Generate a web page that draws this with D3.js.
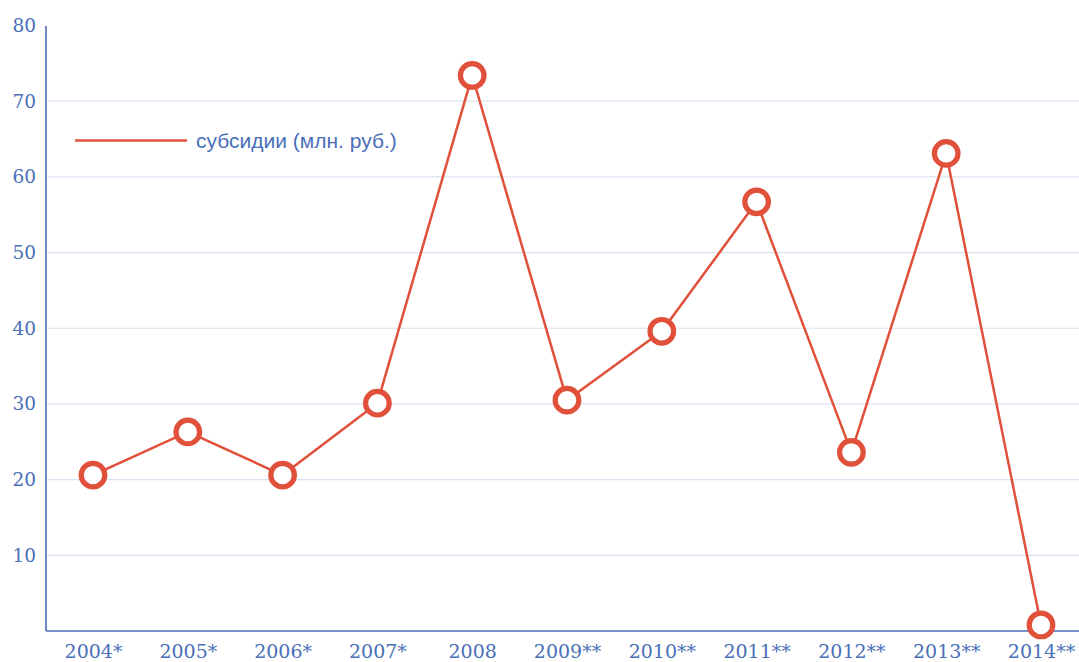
<!DOCTYPE html>
<html>
<head>
<meta charset="utf-8">
<script src="https://cdn.jsdelivr.net/npm/d3@7"></script>
<style>
  html, body { margin: 0; padding: 0; background: #ffffff; }
  svg { display: block; }
</style>
</head>
<body>
<svg id="chart" width="1079" height="662"></svg>
<script>
const years = ["2004*", "2005*", "2006*", "2007*", "2008", "2009**", "2010**", "2011**", "2012**", "2013**", "2014**"];
const subsidies = [20.6, 26.3, 20.6, 30.1, 73.4, 30.5, 39.6, 56.7, 23.6, 63.1, 0.8];
const yTicks = [10, 20, 30, 40, 50, 60, 70, 80];
const seriesName = "субсидии (млн. руб.)";

const svg = d3.select("#chart");
const W = 1079, H = 662;
const axisX = 46, axisY = 631, topY = 25.5;

const x = d3.scalePoint().domain(years).range([93, 1041]);
const y = d3.scaleLinear().domain([0, 80]).range([axisY, topY]);

const blue = "#4a6fb8";
const red = "#e0503a";

// gridlines
svg.append("g")
  .selectAll("line")
  .data(yTicks.filter(d => d < 80))
  .join("line")
  .attr("x1", axisX + 1).attr("x2", W)
  .attr("y1", d => y(d)).attr("y2", d => y(d))
  .attr("stroke", "#dbe2ef").attr("stroke-width", 1.2);

// y axis
const yAxis = d3.axisLeft(y).tickValues(yTicks).tickSize(0).tickPadding(10);
const gy = svg.append("g").attr("transform", `translate(${axisX},0)`).call(yAxis);
gy.select(".domain").attr("stroke", blue).attr("stroke-width", 1.6)
  .attr("d", `M0,${topY + 0.5}V${axisY}`);
gy.selectAll("text")
  .attr("fill", blue)
  .style("font-family", "'DejaVu Serif', serif")
  .style("font-size", "18.5px");

// x axis
const xAxis = d3.axisBottom(x).tickSize(0).tickPadding(14);
const gx = svg.append("g").attr("transform", `translate(0,${axisY})`).call(xAxis);
gx.select(".domain").attr("stroke", blue).attr("stroke-width", 1.6)
  .attr("d", `M${axisX},0H${W}`);
gx.selectAll("text")
  .attr("fill", blue)
  .style("font-family", "'DejaVu Serif', serif")
  .style("font-size", "19px");

// line
const line = d3.line().x((d, i) => x(years[i])).y(d => y(d));
svg.append("path")
  .datum(subsidies)
  .attr("d", line)
  .attr("fill", "none")
  .attr("stroke", red)
  .attr("stroke-width", 2.5)
  .attr("stroke-linejoin", "round");

// markers
svg.append("g")
  .selectAll("circle")
  .data(subsidies)
  .join("circle")
  .attr("cx", (d, i) => x(years[i]))
  .attr("cy", d => y(d))
  .attr("r", 11.8)
  .attr("fill", "#ffffff")
  .attr("stroke", red)
  .attr("stroke-width", 5.2);

// legend
const lg = svg.append("g");
lg.append("line")
  .attr("x1", 75).attr("x2", 187)
  .attr("y1", 140.5).attr("y2", 140.5)
  .attr("stroke", red).attr("stroke-width", 2.5);
lg.append("text")
  .attr("x", 196).attr("y", 147.5)
  .attr("fill", blue)
  .style("font-family", "'Liberation Sans', Arial, sans-serif")
  .style("font-size", "21px")
  .text(seriesName);
</script>
</body>
</html>
